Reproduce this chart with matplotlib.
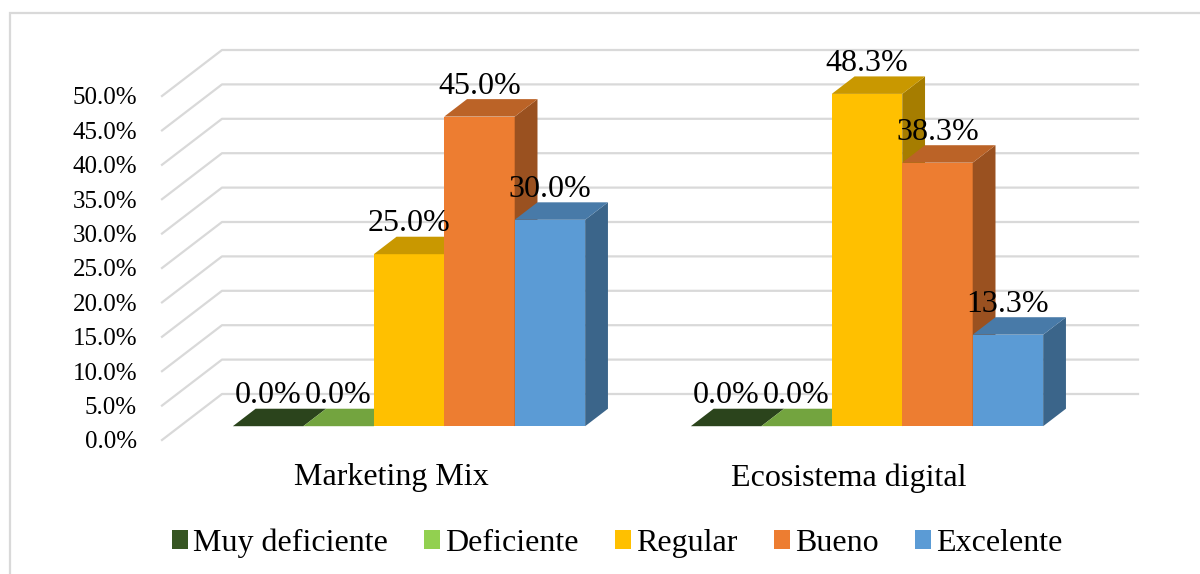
import numpy as np
import matplotlib.pyplot as plt
from matplotlib.patches import Polygon, Rectangle, Patch
import matplotlib.colors as mcolors

plt.rcParams['font.family'] = ['Liberation Serif', 'DejaVu Serif']

categories = ['Marketing Mix', 'Ecosistema digital']
series = ['Muy deficiente', 'Deficiente', 'Regular', 'Bueno', 'Excelente']
values = {
    'Muy deficiente': [0.0, 0.0],
    'Deficiente': [0.0, 0.0],
    'Regular': [25.0, 48.3],
    'Bueno': [45.0, 38.3],
    'Excelente': [30.0, 13.3],
}
colors = ['#375623', '#92D050', '#FFC000', '#ED7D31', '#5B9BD5']
yticks = np.arange(0, 55, 5)


def shade(c, f):
    r, g, b = mcolors.to_rgb(c)
    return (r * f, g * f, b * f)


fig = plt.figure(figsize=(12, 5.74), dpi=100)
# front plane of the 3D box: x in bar widths, y in percent
ax = fig.add_axes([162 / 1200, 1 - 440 / 574, 916 / 1200, 344 / 574])
ax.set_xlim(0, 13)
ax.set_ylim(0, 50)
for s in ax.spines.values():
    s.set_visible(False)

# oblique depth offset of the back wall (data units)
DX, DY = 0.8515, 6.686
d0, d1 = 0.30, 0.68  # bar depth range, fraction of wall depth

grid_c = '#D9D9D9'
for v in yticks:
    ax.plot([0, DX, 13 + DX], [v, v + DY, v + DY], color=grid_c, lw=1.6,
            clip_on=False, zorder=1)

group_w = 6.5
centers = [group_w / 2 + i * group_w for i in range(len(categories))]

for ci, cx in enumerate(centers):
    for si, name in enumerate(series):
        h = values[name][ci]
        xl = cx - 2.5 + si
        x0, y0 = xl + d0 * DX, d0 * DY
        x1, y1 = xl + d1 * DX, d1 * DY
        c = colors[si]
        z = 3 + si
        front = Rectangle((x0, y0), 1, h, facecolor=c, edgecolor='none',
                          clip_on=False, zorder=z)
        top = Polygon([(x0, y0 + h), (x0 + 1, y0 + h), (x1 + 1, y1 + h), (x1, y1 + h)],
                      closed=True, facecolor=shade(c, 0.79), edgecolor='none',
                      clip_on=False, zorder=z)
        side = Polygon([(x0 + 1, y0), (x1 + 1, y1), (x1 + 1, y1 + h), (x0 + 1, y0 + h)],
                       closed=True, facecolor=shade(c, 0.65), edgecolor='none',
                       clip_on=False, zorder=z)
        if h > 0:
            ax.add_patch(front)
            ax.add_patch(side)
        ax.add_patch(top)
        ax.annotate(f'{h:.1f}%', (x0 + 0.5, y0 + h), xytext=(0, 22),
                    textcoords='offset points', ha='center', va='center',
                    fontsize=23, color='black', zorder=20, annotation_clip=False)

ax.set_yticks(yticks)
ax.set_yticklabels([f'{v:.1f}%' for v in yticks], fontsize=18)
ax.tick_params(axis='y', length=0, pad=18)
ax.set_xticks([])
for cx, name in zip(centers, categories):
    ax.text(cx, -5.5, name, ha='center', va='center', fontsize=23)

handles = [Patch(facecolor=c, edgecolor='none') for c in colors]
fig.legend(handles, series, loc='center', bbox_to_anchor=(617 / 1200, 1 - 543 / 574),
           ncol=5, frameon=False, fontsize=23, handlelength=0.5, handleheight=0.5,
           handletextpad=0.15, columnspacing=1.15)

fig.add_artist(Rectangle((10 / 1200, -0.1), 1.2, 1.1 - 13 / 574, transform=fig.transFigure,
                         fill=False, edgecolor=grid_c, lw=1.6))

fig.savefig('out.png', dpi=100)
